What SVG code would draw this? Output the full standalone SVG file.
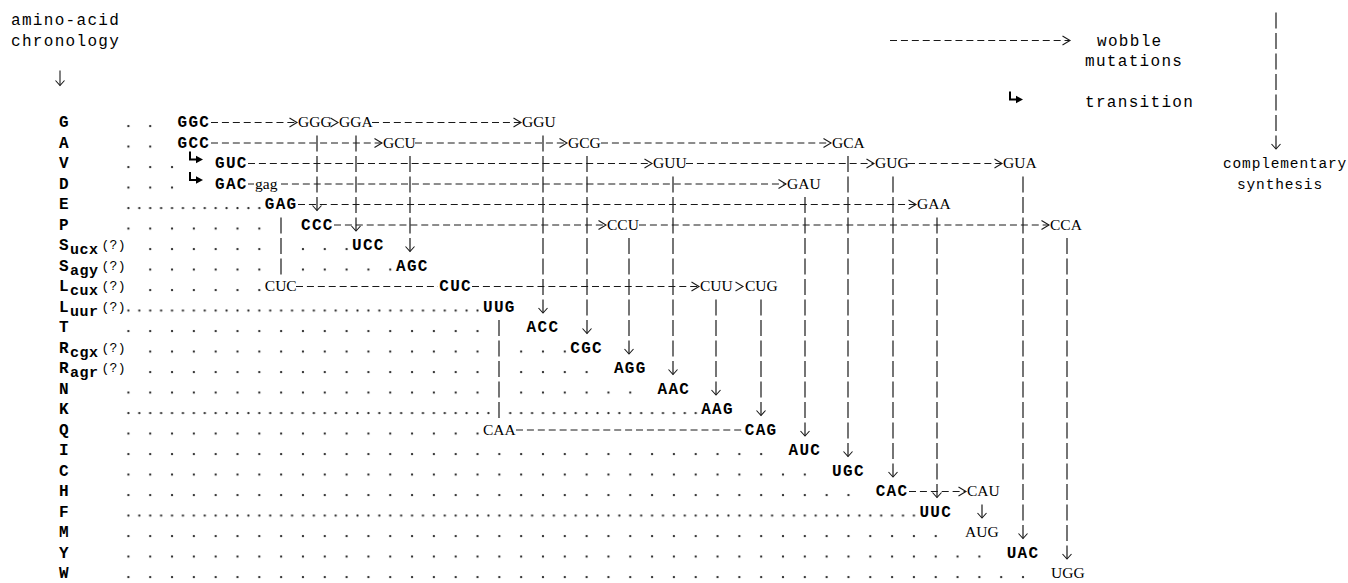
<svg xmlns="http://www.w3.org/2000/svg" width="1348" height="583" viewBox="0 0 1348 583">
<defs>
<style>
.m{font-family:"Liberation Mono","Courier New",monospace;font-size:16px;letter-spacing:1.31px;fill:#000}
.b{font-weight:bold}
.sm{font-size:14.5px;letter-spacing:0.85px}
.sub{font-size:15px;letter-spacing:0.5px}
.q{font-size:13px;letter-spacing:0.3px;font-weight:normal}
.t{font-family:"Liberation Serif","Times New Roman",serif;font-size:15.5px;fill:#000}
.h{stroke:#1a1a1a;stroke-width:1;fill:none;stroke-dasharray:7 3.91}
.hs{stroke:#1a1a1a;stroke-width:1;fill:none}
.hn{stroke:none;fill:none}
.v{stroke:#1a1a1a;stroke-width:1.2;fill:none;stroke-dasharray:16 4.5}
.vs{stroke:#1a1a1a;stroke-width:1.1;fill:none}
.ah{marker-end:url(#chev)}
.av{marker-end:url(#head)}
</style>
<marker id="chev" markerUnits="userSpaceOnUse" orient="auto" refX="0" refY="0" markerWidth="12" markerHeight="12" overflow="visible">
<path d="M-7.5,-4.5 L0,0 L-7.5,4.5" fill="none" stroke="#1a1a1a" stroke-width="1.1" stroke-dasharray="none"/>
</marker>
<marker id="head" markerUnits="userSpaceOnUse" orient="auto" refX="0" refY="0" markerWidth="12" markerHeight="12" overflow="visible">
<path d="M-5,-4.5 L0,0 L-5,4.5" fill="none" stroke="#1a1a1a" stroke-width="1.1" stroke-dasharray="none"/>
</marker>
<pattern id="dotS" patternUnits="userSpaceOnUse" x="117.49" y="0" width="21.82" height="20.5">
<circle cx="10.91" cy="3" r="1.15" fill="#222"/>
</pattern>
<pattern id="dotD" patternUnits="userSpaceOnUse" x="122.945" y="0" width="10.91" height="20.5">
<circle cx="5.455" cy="3" r="1.15" fill="#222"/>
</pattern>
<g id="hook">
<path d="M0,-8 V0 H7" fill="none" stroke="#000" stroke-width="2"/>
<path d="M6,-3.8 L13,0 L6,3.8 Z" fill="#000"/>
</g>
</defs>
<rect width="1348" height="583" fill="#fff"/>

<g id="header">
<text class="m" x="11" y="25">amino-acid</text>
<text class="m" x="11" y="45.5">chronology</text>
</g>

<g id="legend">
<text class="m" x="1097" y="45.5">wobble</text>
<text class="m" x="1085" y="66">mutations</text>
<use href="#hook" x="1010" y="99.5"/>
<text class="m" x="1085" y="107">transition</text>
<text class="m sm" x="1223" y="168.3">complementary</text>
<text class="m sm" x="1237" y="188.8">synthesis</text>
</g>

<g id="leaders">
<rect x="123.4" y="114.5" width="31.82" height="18" fill="url(#dotS)"/>
<rect x="123.4" y="135" width="31.82" height="18" fill="url(#dotS)"/>
<rect x="123.4" y="155.5" width="53.64" height="18" fill="url(#dotS)"/>
<rect x="123.4" y="176" width="53.64" height="18" fill="url(#dotS)"/>
<rect x="123.4" y="196.5" width="140.92" height="18" fill="url(#dotD)"/>
<rect x="123.4" y="217" width="140.92" height="18" fill="url(#dotS)"/>
<rect x="145.22" y="237.5" width="119.1" height="18" fill="url(#dotS)"/>
<rect x="297.96" y="237.5" width="53.64" height="18" fill="url(#dotS)"/>
<rect x="145.22" y="258" width="119.1" height="18" fill="url(#dotS)"/>
<rect x="297.96" y="258" width="97.28" height="18" fill="url(#dotS)"/>
<rect x="145.22" y="278.5" width="119.1" height="18" fill="url(#dotS)"/>
<rect x="123.4" y="299" width="359.12" height="18" fill="url(#dotD)"/>
<rect x="123.4" y="319.5" width="359.12" height="18" fill="url(#dotS)"/>
<rect x="145.22" y="340" width="337.3" height="18" fill="url(#dotS)"/>
<rect x="516.16" y="340" width="53.64" height="18" fill="url(#dotS)"/>
<rect x="145.22" y="360.5" width="337.3" height="18" fill="url(#dotS)"/>
<rect x="516.16" y="360.5" width="75.46" height="18" fill="url(#dotS)"/>
<rect x="123.4" y="381" width="359.12" height="18" fill="url(#dotS)"/>
<rect x="516.16" y="381" width="119.1" height="18" fill="url(#dotS)"/>
<rect x="123.4" y="401.5" width="370.03" height="18" fill="url(#dotD)"/>
<rect x="505.25" y="401.5" width="195.47" height="18" fill="url(#dotD)"/>
<rect x="123.4" y="422" width="359.12" height="18" fill="url(#dotS)"/>
<rect x="123.4" y="442.5" width="642.78" height="18" fill="url(#dotS)"/>
<rect x="123.4" y="463" width="686.42" height="18" fill="url(#dotS)"/>
<rect x="123.4" y="483.5" width="730.06" height="18" fill="url(#dotS)"/>
<rect x="123.4" y="504" width="795.52" height="18" fill="url(#dotD)"/>
<rect x="123.4" y="524.5" width="817.34" height="18" fill="url(#dotS)"/>
<rect x="123.4" y="545" width="860.98" height="18" fill="url(#dotS)"/>
<rect x="123.4" y="565.5" width="904.62" height="17" fill="url(#dotS)"/>
</g>

<g id="amino-acids">
<g id="aa-G"><text class="m b" x="59" y="127.3">G</text></g>
<g id="aa-A"><text class="m b" x="59" y="147.8">A</text></g>
<g id="aa-V"><text class="m b" x="59" y="168.3">V</text></g>
<g id="aa-D"><text class="m b" x="59" y="188.8">D</text></g>
<g id="aa-E"><text class="m b" x="59" y="209.3">E</text></g>
<g id="aa-P"><text class="m b" x="59" y="229.8">P</text></g>
<g id="aa-Sucx"><text class="m b" x="59" y="250.3">S<tspan class="sub" dy="4">ucx</tspan><tspan class="q" dx="3" dy="-5">(?)</tspan></text></g>
<g id="aa-Sagy"><text class="m b" x="59" y="270.8">S<tspan class="sub" dy="4">agy</tspan><tspan class="q" dx="3" dy="-5">(?)</tspan></text></g>
<g id="aa-Lcux"><text class="m b" x="59" y="291.3">L<tspan class="sub" dy="4">cux</tspan><tspan class="q" dx="3" dy="-5">(?)</tspan></text></g>
<g id="aa-Luur"><text class="m b" x="59" y="311.8">L<tspan class="sub" dy="4">uur</tspan><tspan class="q" dx="3" dy="-5">(?)</tspan></text></g>
<g id="aa-T"><text class="m b" x="59" y="332.3">T</text></g>
<g id="aa-Rcgx"><text class="m b" x="59" y="352.8">R<tspan class="sub" dy="4">cgx</tspan><tspan class="q" dx="3" dy="-5">(?)</tspan></text></g>
<g id="aa-Ragr"><text class="m b" x="59" y="373.3">R<tspan class="sub" dy="4">agr</tspan><tspan class="q" dx="3" dy="-5">(?)</tspan></text></g>
<g id="aa-N"><text class="m b" x="59" y="393.8">N</text></g>
<g id="aa-K"><text class="m b" x="59" y="414.3">K</text></g>
<g id="aa-Q"><text class="m b" x="59" y="434.8">Q</text></g>
<g id="aa-I"><text class="m b" x="59" y="455.3">I</text></g>
<g id="aa-C"><text class="m b" x="59" y="475.8">C</text></g>
<g id="aa-H"><text class="m b" x="59" y="496.3">H</text></g>
<g id="aa-F"><text class="m b" x="59" y="516.8">F</text></g>
<g id="aa-M"><text class="m b" x="59" y="537.3">M</text></g>
<g id="aa-Y"><text class="m b" x="59" y="557.8">Y</text></g>
<g id="aa-W"><text class="m b" x="59" y="578.3">W</text></g>
</g>

<g id="codons">
<g id="n-GGC"><text class="m b" x="177.5" y="127.3">GGC</text></g>
<g id="n-GGG"><text class="t" x="298" y="127.3">GGG</text></g>
<g id="n-GGA"><text class="t" x="339" y="127.3">GGA</text></g>
<g id="n-GGU"><text class="t" x="522" y="127.3">GGU</text></g>
<g id="n-GCC"><text class="m b" x="177.5" y="147.8">GCC</text></g>
<g id="n-GCU"><text class="t" x="383" y="147.8">GCU</text></g>
<g id="n-GCG"><text class="t" x="568" y="147.8">GCG</text></g>
<g id="n-GCA"><text class="t" x="832" y="147.8">GCA</text></g>
<g id="n-GUC"><use href="#hook" x="190" y="159.5"/><text class="m b" x="215" y="168.3">GUC</text></g>
<g id="n-GUU"><text class="t" x="653" y="168.3">GUU</text></g>
<g id="n-GUG"><text class="t" x="875" y="168.3">GUG</text></g>
<g id="n-GUA"><text class="t" x="1003" y="168.3">GUA</text></g>
<g id="n-GAC"><use href="#hook" x="190" y="180"/><text class="m b" x="215" y="188.8">GAC</text></g>
<g id="n-gag"><text class="t" x="255" y="188.8" font-size="17">gag</text></g>
<g id="n-GAU"><text class="t" x="787" y="188.8">GAU</text></g>
<g id="n-GAG"><text class="m b" x="264.8" y="209.3">GAG</text></g>
<g id="n-GAA"><text class="t" x="917" y="209.3">GAA</text></g>
<g id="n-CCC"><text class="m b" x="301" y="229.8">CCC</text></g>
<g id="n-CCU"><text class="t" x="607" y="229.8">CCU</text></g>
<g id="n-CCA"><text class="t" x="1050" y="229.8">CCA</text></g>
<g id="n-UCC"><text class="m b" x="352" y="250.3">UCC</text></g>
<g id="n-AGC"><text class="m b" x="396" y="270.8">AGC</text></g>
<g id="n-CUC-1"><text class="t" x="264.8" y="291.3">CUC</text></g>
<g id="n-CUC-2"><text class="m b" x="439.3" y="291.3">CUC</text></g>
<g id="n-CUU"><text class="t" x="700" y="291.3">CUU</text></g>
<g id="n-CUG"><text class="t" x="745" y="291.3">CUG</text></g>
<g id="n-UUG"><text class="m b" x="483" y="311.8">UUG</text></g>
<g id="n-ACC"><text class="m b" x="526.6" y="332.3">ACC</text></g>
<g id="n-CGC"><text class="m b" x="570.3" y="352.8">CGC</text></g>
<g id="n-AGG"><text class="m b" x="613.9" y="373.3">AGG</text></g>
<g id="n-AAC"><text class="m b" x="657.5" y="393.8">AAC</text></g>
<g id="n-AAG"><text class="m b" x="701.2" y="414.3">AAG</text></g>
<g id="n-CAA"><text class="t" x="483" y="434.8">CAA</text></g>
<g id="n-CAG"><text class="m b" x="744.8" y="434.8">CAG</text></g>
<g id="n-AUC"><text class="m b" x="788.5" y="455.3">AUC</text></g>
<g id="n-UGC"><text class="m b" x="832.1" y="475.8">UGC</text></g>
<g id="n-CAC"><text class="m b" x="875.7" y="496.3">CAC</text></g>
<g id="n-CAU"><text class="t" x="967" y="496.3">CAU</text></g>
<g id="n-UUC"><text class="m b" x="919.4" y="516.8">UUC</text></g>
<g id="n-AUG"><text class="t" x="965" y="537.3">AUG</text></g>
<g id="n-UAC"><text class="m b" x="1006.7" y="557.8">UAC</text></g>
<g id="n-UGG"><text class="t" x="1051" y="578.3">UGG</text></g>
</g>

<g id="connectors">
<g id="wobble">
<line class="h ah" x1="211" y1="122.5" x2="297" y2="122.5"/>
<line class="hn ah" x1="331" y1="122.5" x2="338" y2="122.5"/>
<line class="h ah" x1="372" y1="122.5" x2="521" y2="122.5"/>
<line class="h ah" x1="211" y1="143" x2="382" y2="143"/>
<line class="h ah" x1="415" y1="143" x2="567" y2="143"/>
<line class="h ah" x1="601" y1="143" x2="831" y2="143"/>
<line class="h ah" x1="248" y1="163.5" x2="652" y2="163.5"/>
<line class="h ah" x1="686" y1="163.5" x2="874" y2="163.5"/>
<line class="h ah" x1="908" y1="163.5" x2="1002" y2="163.5"/>
<line class="hs" x1="248" y1="184" x2="254" y2="184"/>
<line class="h ah" x1="281" y1="184" x2="786" y2="184"/>
<line class="h ah" x1="298" y1="204.5" x2="916" y2="204.5"/>
<line class="h ah" x1="334" y1="225" x2="606" y2="225"/>
<line class="h ah" x1="639" y1="225" x2="1049" y2="225"/>
<line class="h" x1="296" y1="286.5" x2="438" y2="286.5"/>
<line class="h ah" x1="472" y1="286.5" x2="699" y2="286.5"/>
<line class="hn ah" x1="736" y1="286.5" x2="743" y2="286.5"/>
<line class="h" x1="516" y1="430" x2="743" y2="430"/>
<line class="h ah" x1="909" y1="491.5" x2="966" y2="491.5"/>
</g>
<g id="complementary">
<line class="v av" x1="317" y1="135.5" x2="317" y2="210.5"/>
<line class="v av" x1="356" y1="135.5" x2="356" y2="231"/>
<line class="v av" x1="410" y1="156" x2="410" y2="251.5"/>
<line class="v" x1="281" y1="217.5" x2="281" y2="274.5"/>
<line class="v av" x1="543" y1="135.5" x2="543" y2="313"/>
<line class="v av" x1="587" y1="156" x2="587" y2="333.5"/>
<line class="v av" x1="673" y1="176.5" x2="673" y2="374.5"/>
<line class="v av" x1="629" y1="238" x2="629" y2="354"/>
<line class="v av" x1="805" y1="197" x2="805" y2="436"/>
<line class="v av" x1="716" y1="299.5" x2="716" y2="395"/>
<line class="v av" x1="761" y1="299.5" x2="761" y2="415.5"/>
<line class="v av" x1="848" y1="156" x2="848" y2="456.5"/>
<line class="v av" x1="893" y1="176.5" x2="893" y2="477"/>
<line class="v av" x1="937" y1="217.5" x2="937" y2="497.5"/>
<line class="v av" x1="1067" y1="238" x2="1067" y2="559"/>
<line class="v av" x1="1023" y1="176.5" x2="1023" y2="538.5"/>
<line class="v av" x1="982" y1="504.5" x2="982" y2="518"/>
<line class="v" x1="499" y1="320" x2="499" y2="418"/>
</g>
<g id="legend-arrows">
<line class="vs av" x1="60" y1="70.5" x2="60" y2="85.5"/>
<line class="h ah" x1="890" y1="40.5" x2="1070" y2="40.5"/>
<line class="v av" x1="1276" y1="12.5" x2="1276" y2="149"/>
</g>
</g>
</svg>
